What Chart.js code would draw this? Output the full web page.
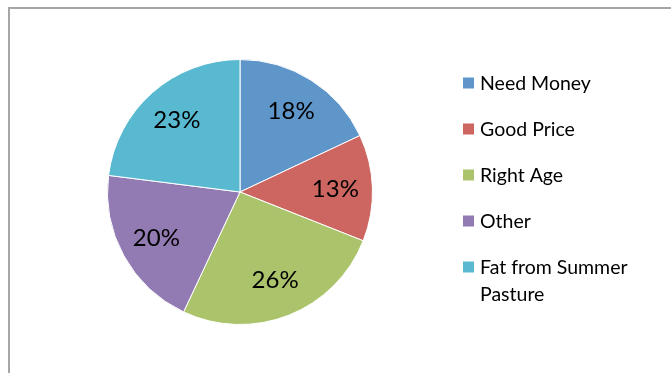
<!DOCTYPE html>
<html>
<head>
<meta charset="utf-8">
<script src="https://cdn.jsdelivr.net/npm/chart.js@4"></script>
<style>
    html, body { margin: 0; padding: 0; background: #fff; }
    #wrap { position: relative; width: 671px; height: 373px; overflow: hidden; }
    #moldura {
        position: absolute; left: 8px; top: 7px; width: 700px; height: 400px;
        border: 2px solid #a6a6a6; box-sizing: border-box;
    }
    #grafico { position: absolute; left: 0; top: 0; }
</style>
</head>
<body>
<div id="wrap">
    <div id="moldura"></div>
    <canvas id="grafico" width="671" height="373"></canvas>
</div>
<script>
// Motivos de venda
const motivos = ['Need Money', 'Good Price', 'Right Age', 'Other', ['Fat from Summer', 'Pasture']];
const percentuais = [18, 13, 26, 20, 23];
const cores = ['#5E96CA', '#CD6661', '#ABC46C', '#927AB2', '#58B9D1'];

const FONTE = 'Lato, "Open Sans", sans-serif';

// Rótulos de porcentagem dentro das fatias
const rotulosFatias = {
    id: 'rotulosFatias',
    afterDatasetsDraw(chart) {
        const ctx = chart.ctx;
        const meta = chart.getDatasetMeta(0);
        ctx.save();
        ctx.font = '24px ' + FONTE;
        ctx.fillStyle = '#000';
        ctx.textAlign = 'center';
        ctx.textBaseline = 'middle';
        meta.data.forEach((arc, i) => {
            const p = arc.getProps(['x', 'y', 'startAngle', 'endAngle', 'outerRadius'], true);
            const meio = (p.startAngle + p.endAngle) / 2;
            const r = p.outerRadius * 0.72;
            ctx.fillText(percentuais[i] + '%', p.x + Math.cos(meio) * r, p.y + Math.sin(meio) * r);
        });
        ctx.restore();
    }
};

// Legenda desenhada à direita, com quebra de linha
const legendaLateral = {
    id: 'legendaLateral',
    afterDraw(chart) {
        const ctx = chart.ctx;
        const x0 = 463, y0 = 84, passo = 46, lado = 11;
        ctx.save();
        ctx.font = '19.5px ' + FONTE;
        ctx.textBaseline = 'middle';
        chart.data.labels.forEach((label, i) => {
            const y = y0 + i * passo;
            ctx.fillStyle = cores[i];
            ctx.fillRect(x0, y - lado / 2 - 1, lado, lado);
            ctx.fillStyle = '#000';
            const linhas = Array.isArray(label) ? label : [label];
            linhas.forEach((t, j) => ctx.fillText(t, x0 + 17, y + j * 27));
        });
        ctx.restore();
    }
};

new Chart(document.getElementById('grafico'), {
    type: 'pie',
    data: {
        labels: motivos,
        datasets: [{
            data: percentuais,
            backgroundColor: cores,
            borderColor: '#ffffff',
            borderWidth: 1
        }]
    },
    options: {
        responsive: false,
        animation: false,
        layout: {
            padding: { left: 107, right: 298, top: 59, bottom: 48 }
        },
        plugins: {
            legend: { display: false },
            tooltip: { enabled: false }
        }
    },
    plugins: [rotulosFatias, legendaLateral]
});
</script>
</body>
</html>
